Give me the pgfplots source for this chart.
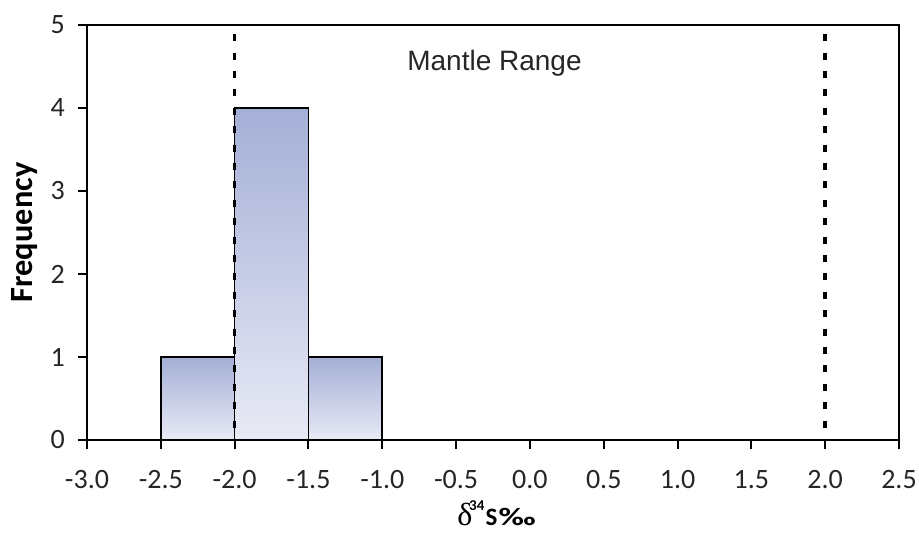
\documentclass[border=0pt]{standalone}
\usepackage{pgfplots}
\pgfplotsset{compat=1.18}
\usepackage{fontspec}
\setmainfont{Carlito}
\newfontfamily\arialfont{Liberation Sans}
\newfontfamily\deltafont{Liberation Serif}
\definecolor{bartop}{HTML}{A5AFD7}
\definecolor{barbot}{HTML}{E8EAF5}
\begin{document}
\begin{tikzpicture}
\begin{axis}[
  scale only axis,
  width=406pt, height=207.5pt,
  xmin=-3, xmax=2.5, ymin=0, ymax=5,
  xtick={-3,-2.5,...,2.5},
  ytick={0,1,2,3,4,5},
  tick align=outside,
  major tick length=4.5pt,
  xtick pos=bottom, ytick pos=left,
  axis line style={line width=1pt},
  every tick/.style={black, line width=1pt},
  /pgf/number format/assume math mode=true,
  xticklabel style={/pgf/number format/.cd, fixed, fixed zerofill, precision=1, /tikz/.cd, yshift=-7pt},
  yticklabel style={xshift=-3pt},
  ticklabel style={font=\fontsize{14}{16}\selectfont, text=black!85},
  xlabel={{\deltafont\fontsize{16}{18}\selectfont δ}\kern-1.6pt\raisebox{7.5pt}{\fontsize{7.5}{8}\selectfont\bfseries 34}\kern0.6pt{\bfseries\fontsize{12.5}{14}\selectfont S\kern0.6pt\scalebox{1.4}[1]{‰}}},
  ylabel={\textbf{Frequency}},
  xlabel style={at={(axis description cs:0.5,0)}, anchor=base, yshift=-43pt, xshift=1.75pt},
  ylabel style={font=\fontsize{16.2}{18}\selectfont, at={(axis description cs:-0.0764,0.5)}, anchor=center},
  clip=false,
]
\addplot[ybar interval, draw=black, line width=0.8pt, shading=axis, top color=bartop, bottom color=barbot]
  coordinates {(-2.5,1) (-2,1)};
\addplot[ybar interval, draw=black, line width=0.8pt, shading=axis, top color=bartop, bottom color=barbot]
  coordinates {(-2,4) (-1.5,4)};
\addplot[ybar interval, draw=black, line width=0.8pt, shading=axis, top color=bartop, bottom color=barbot]
  coordinates {(-1.5,1) (-1,1)};
\addplot[black, line width=1.8pt, dash pattern=on 3.5pt off 5.7pt] coordinates {(-2,4.89) (-2,0)};
\addplot[black, line width=1.8pt, dash pattern=on 3.5pt off 5.7pt] coordinates {(2,4.89) (2,0)};
\node[font=\arialfont\fontsize{14}{16}\selectfont, text=black!85, anchor=base] at (axis cs:-0.24,4.45) {Mantle Range};
\end{axis}
\path (current axis.south west) ++(-43.5pt,-46.5pt) coordinate (bbsw);
\path (current axis.north east) ++(10pt,12.5pt) coordinate (bbne);
\pgfresetboundingbox
\path[use as bounding box] (bbsw) rectangle (bbne);
\end{tikzpicture}
\end{document}
